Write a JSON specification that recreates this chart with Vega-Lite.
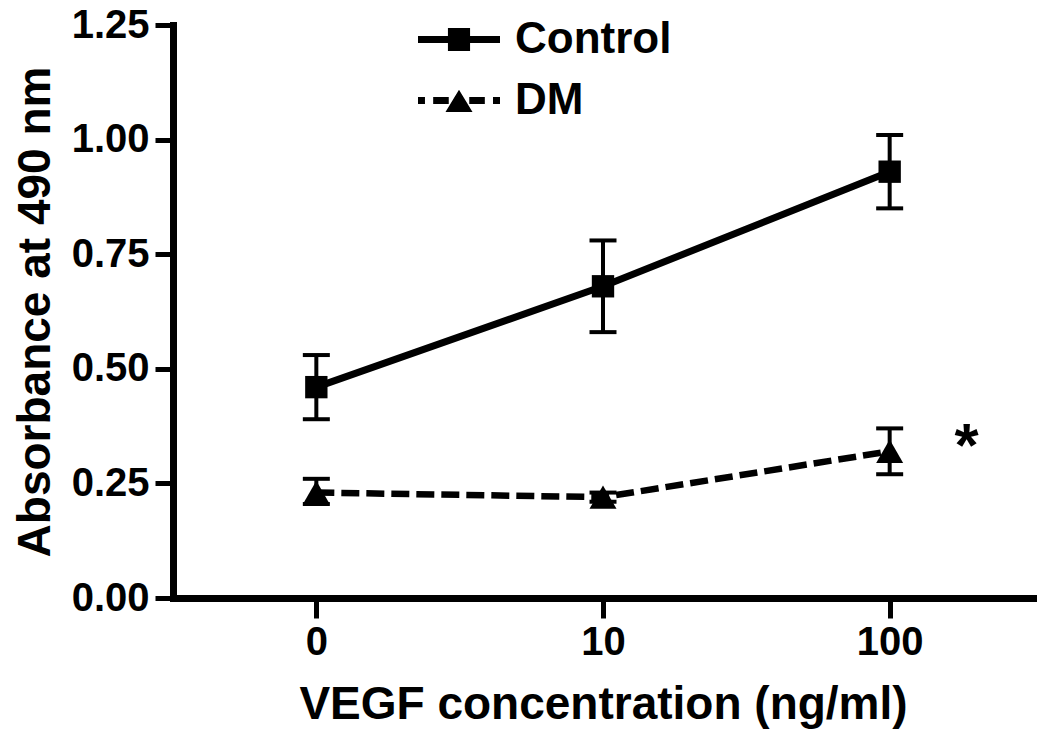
{
  "$schema": "https://vega.github.io/schema/vega-lite/v6.json",
  "width": 860,
  "height": 573,
  "autosize": "none",
  "padding": {"left": 173, "top": 25, "right": 17, "bottom": 147},
  "background": "white",
  "config": {
    "view": {"stroke": null},
    "font": "Liberation Sans",
    "axis": {
      "grid": false,
      "domainColor": "black",
      "domainWidth": 7,
      "domainCap": "square",
      "tickColor": "black",
      "tickWidth": 5,
      "labelColor": "black",
      "labelFont": "Liberation Sans",
      "labelFontWeight": "bold",
      "labelFontSize": 40,
      "titleColor": "black",
      "titleFont": "Liberation Sans",
      "titleFontWeight": "bold",
      "titleFontSize": 46
    }
  },
  "data": {
    "values": [
      {"conc": "0", "group": "Control", "mean": 0.46, "lo": 0.39, "hi": 0.53},
      {"conc": "10", "group": "Control", "mean": 0.68, "lo": 0.58, "hi": 0.78},
      {"conc": "100", "group": "Control", "mean": 0.93, "lo": 0.85, "hi": 1.01},
      {"conc": "0", "group": "DM", "mean": 0.23, "lo": 0.205, "hi": 0.26},
      {"conc": "10", "group": "DM", "mean": 0.22, "lo": 0.21, "hi": 0.23},
      {"conc": "100", "group": "DM", "mean": 0.32, "lo": 0.27, "hi": 0.37}
    ]
  },
  "encoding": {
    "x": {
      "field": "conc",
      "type": "ordinal",
      "sort": ["0", "10", "100"],
      "scale": {"type": "point", "padding": 0.5},
      "axis": {
        "title": "VEGF concentration (ng/ml)",
        "labelAngle": 0,
        "tickSize": 20,
        "labelPadding": 4,
        "titlePadding": 20
      }
    }
  },
  "resolve": {"scale": {"shape": "independent"}, "legend": {"shape": "independent"}},
  "layer": [
    {
      "mark": {"type": "rule", "color": "black", "strokeWidth": 4},
      "encoding": {
        "y": {
          "field": "lo",
          "type": "quantitative",
          "scale": {"domain": [0, 1.25], "nice": false, "zero": true},
          "axis": {
            "title": "Absorbance at 490 nm",
            "values": [0, 0.25, 0.5, 0.75, 1, 1.25],
            "format": ".2f",
            "tickSize": 18,
            "labelPadding": 6,
            "titlePadding": 12
          }
        },
        "y2": {"field": "hi"}
      }
    },
    {
      "mark": {"type": "tick", "color": "black", "size": 27, "thickness": 4, "opacity": 1},
      "encoding": {"y": {"field": "lo", "type": "quantitative"}}
    },
    {
      "mark": {"type": "tick", "color": "black", "size": 27, "thickness": 4, "opacity": 1},
      "encoding": {"y": {"field": "hi", "type": "quantitative"}}
    },
    {
      "transform": [{"filter": "datum.group === 'Control'"}],
      "mark": {"type": "line", "color": "black", "strokeWidth": 7},
      "encoding": {
        "y": {"field": "mean", "type": "quantitative"}
      }
    },
    {
      "transform": [{"filter": "datum.group === 'DM'"}],
      "mark": {"type": "line", "color": "black", "strokeWidth": 6.5, "strokeDash": [18, 7]},
      "encoding": {
        "y": {"field": "mean", "type": "quantitative"}
      }
    },
    {
      "mark": {"type": "point", "filled": true, "color": "black", "opacity": 1},
      "encoding": {
        "y": {"field": "mean", "type": "quantitative"},
        "size": {
          "field": "group",
          "type": "nominal",
          "scale": {"domain": ["Control", "DM"], "range": [500, 730]},
          "legend": null
        },
        "shape": {
          "field": "group",
          "type": "nominal",
          "scale": {"domain": ["Control", "DM"], "range": ["square", "triangle-up"]},
          "legend": null
        }
      }
    },
    {
      "mark": {"type": "point", "filled": true, "color": "black", "opacity": 1, "size": 0},
      "encoding": {
        "y": {"field": "mean", "type": "quantitative"},
        "shape": {
          "field": "group",
          "type": "nominal",
          "scale": {
            "domain": ["Control", "DM"],
            "range": [
              "M-1,-0.085H1V0.085H-1Z M-0.27,-0.28H0.27V0.28H-0.27Z",
              "M-1,-0.085H-0.83V0.085H-1Z M-0.63,-0.085H-0.25V0.085H-0.63Z M0,-0.26L0.33,0.28H-0.33Z M0.25,-0.085H0.63V0.085H0.25Z M0.83,-0.085H1V0.085H0.83Z"
            ]
          },
          "legend": {
            "title": null,
            "orient": "none",
            "legendX": 245,
            "legendY": -4,
            "symbolSize": 6724,
            "clipHeight": 37,
            "rowPadding": 16,
            "labelFont": "Liberation Sans",
            "labelFontSize": 44,
            "labelFontWeight": "bold",
            "labelColor": "black",
            "labelOffset": 15,
            "symbolStrokeWidth": 0,
            "symbolFillColor": "black",
            "symbolOpacity": 1
          }
        }
      }
    },
    {
      "data": {"values": [{"conc": "100", "v": 0.33, "t": "*"}]},
      "mark": {"type": "text", "dx": 77, "fontSize": 62, "fontWeight": "bold", "font": "Liberation Sans", "color": "black", "baseline": "middle", "align": "center"},
      "encoding": {
        "y": {"field": "v", "type": "quantitative"},
        "text": {"field": "t"}
      }
    }
  ]
}
